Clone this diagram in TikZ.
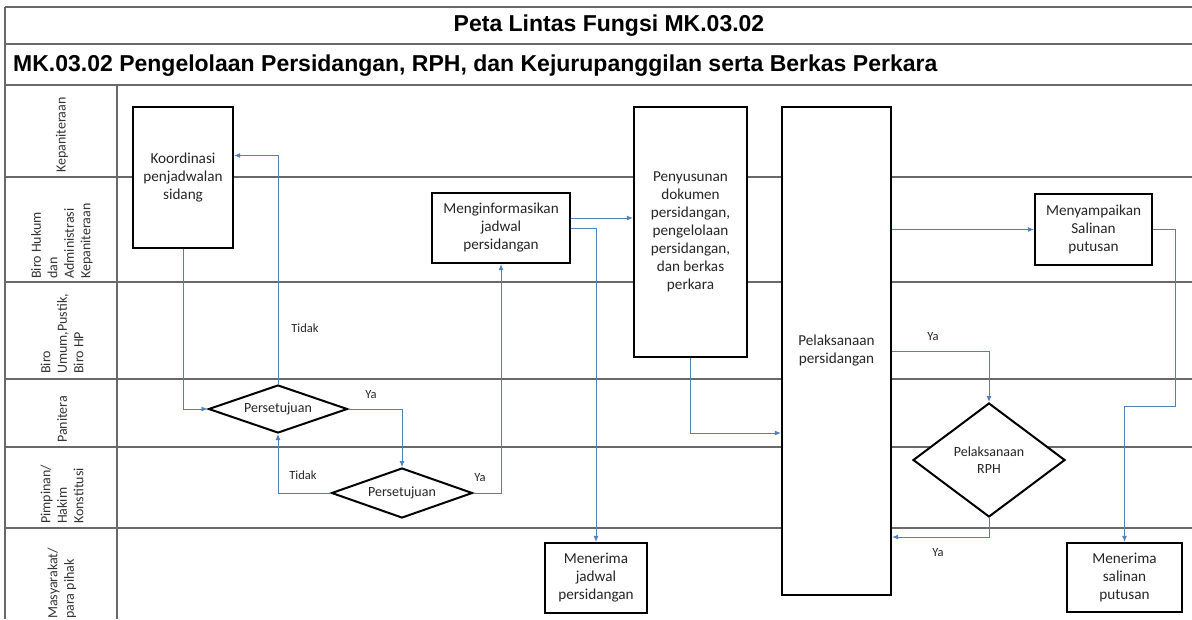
\documentclass[tikz,border=0pt]{standalone}
\usepackage{fontspec}
\setmainfont{Carlito}
\newfontfamily\headfont{Liberation Sans}
\usetikzlibrary{arrows.meta, shapes.geometric}
\definecolor{flowblue}{RGB}{79,129,189}
\definecolor{rulegray}{RGB}{105,105,105}

\begin{document}
\begin{tikzpicture}[x=1pt, y=-1pt,
  box/.style={draw=black, line width=2.2pt, fill=white, align=center, inner sep=2pt,
    font=\fontsize{15.2}{18}\selectfont, text=black!85},
  decision/.style={diamond, draw=black, line width=2pt, fill=white, align=center,
    inner sep=0pt, font=\fontsize{14}{17}\selectfont, text=black!85},
  flow/.style={draw=flowblue, line width=0.9pt, -{Latex[length=6pt,width=5pt]}},
  lane/.style={draw=rulegray, line width=1.3pt},
  lanelabel/.style={rotate=90, anchor=west, align=left, inner sep=0pt,
    font=\fontsize{14}{16.5}\selectfont, text=black!80},
  note/.style={font=\fontsize{12.5}{14}\selectfont, text=black!85}
]
  \useasboundingbox (0,0) rectangle (1192,619);

  % Frame and lanes
  \draw[lane] (5,7) -- (1192,7);
  \draw[lane] (5,7) -- (5,619);
  \foreach \y in {44,85,177,282,379,447,528}
    \draw[lane] (5,\y) -- (1192,\y);
  \draw[lane] (117,85) -- (117,619);

  % Titles
  \node[font=\headfont\bfseries\fontsize{23}{27}\selectfont] (title) at (609,26) {Peta Lintas Fungsi MK.03.02};
  \node[anchor=west, inner sep=0pt, font=\headfont\bfseries\fontsize{23}{27}\selectfont] (subtitle) at (13,66)
    {MK.03.02 Pengelolaan Persidangan, RPH, dan Kejurupanggilan serta Berkas Perkara};

  % Lane labels
  \foreach \i/\y/\txt in {1/173/Kepaniteraan,
                          2/279/{Biro Hukum\\dan\\Administrasi\\Kepaniteraan},
                          3/374/{Biro\\Umum,Pustik,\\Biro HP},
                          4/443/Panitera,
                          5/524/{Pimpinan/\\Hakim\\Konstitusi},
                          6/619/{Masyarakat/\\para pihak}}
    \node[lanelabel] (lab\i) at (62,\y) {\txt};

  % Process boxes
  \node[box, minimum width=100pt, minimum height=141pt] (koord) at (183,177.5) {Koordinasi\\penjadwalan\\sidang};
  \node[box, minimum width=138pt, minimum height=70pt] (info) at (501,228) {Menginformasikan\\jadwal\\persidangan};
  \node[box, minimum width=113pt, minimum height=250pt] (susun) at (690.5,232) {Penyusunan\\dokumen\\persidangan,\\pengelolaan\\persidangan,\\dan berkas\\perkara};
  \node[box, minimum width=109pt, minimum height=488pt] (laksana) at (836.5,351) {Pelaksanaan\\persidangan};
  \node[box, minimum width=117pt, minimum height=71pt] (sampai) at (1093.5,229.5) {Menyampaikan\\Salinan\\putusan};
  \node[box, minimum width=102pt, minimum height=70pt] (terima1) at (596,578) {Menerima\\jadwal\\persidangan};
  \node[box, minimum width=115pt, minimum height=69pt] (terima2) at (1124.5,577.5) {Menerima\\salinan\\putusan};

  % Decisions
  \node[decision, aspect=3, minimum width=139pt, minimum height=48pt] (setuju1) at (278,409) {Persetujuan};
  \node[decision, aspect=3, minimum width=141pt, minimum height=50pt] (setuju2) at (402,493) {Persetujuan};
  \node[decision, aspect=1.33, minimum width=152pt, minimum height=114pt] (rph) at (989,460) {Pelaksanaan\\RPH};

  % Connectors
  \coordinate (bend) at (1175,406);
  \draw[flow] (koord.south) |- (setuju1.west);
  \draw[flow] (setuju1.north) |- ([yshift=22pt]koord.east);
  \draw[flow] (setuju1.east) -| (setuju2.north);
  \draw[flow] (setuju2.west) -| (setuju1.south);
  \draw[flow] (setuju2.east) -| (info.south);
  \draw[flow] ([yshift=10pt]info.east) -- ([yshift=10pt]info.east -| susun.west);
  \draw[flow] (info.east) -| (terima1.north);
  \draw[flow] (susun.south) |- ([yshift=-82pt]laksana.west);
  \draw[flow] (sampai.west -| laksana.east) -- (sampai.west);
  \draw[flow] (laksana.east) -| (rph.north);
  \draw[flow] (rph.south) |- ([yshift=-186pt]laksana.east);
  \draw[flow] (sampai.east) -| (bend) -| (terima2.north);

  % Branch labels
  \node[note] (tidak1) at (305,328) {Tidak};
  \node[note] (ya1) at (371,395) {Ya};
  \node[note] (tidak2) at (303,475) {Tidak};
  \node[note] (ya2) at (480,478) {Ya};
  \node[note] (ya3) at (933,337) {Ya};
  \node[note] (ya4) at (938,553) {Ya};
\end{tikzpicture}
\end{document}
